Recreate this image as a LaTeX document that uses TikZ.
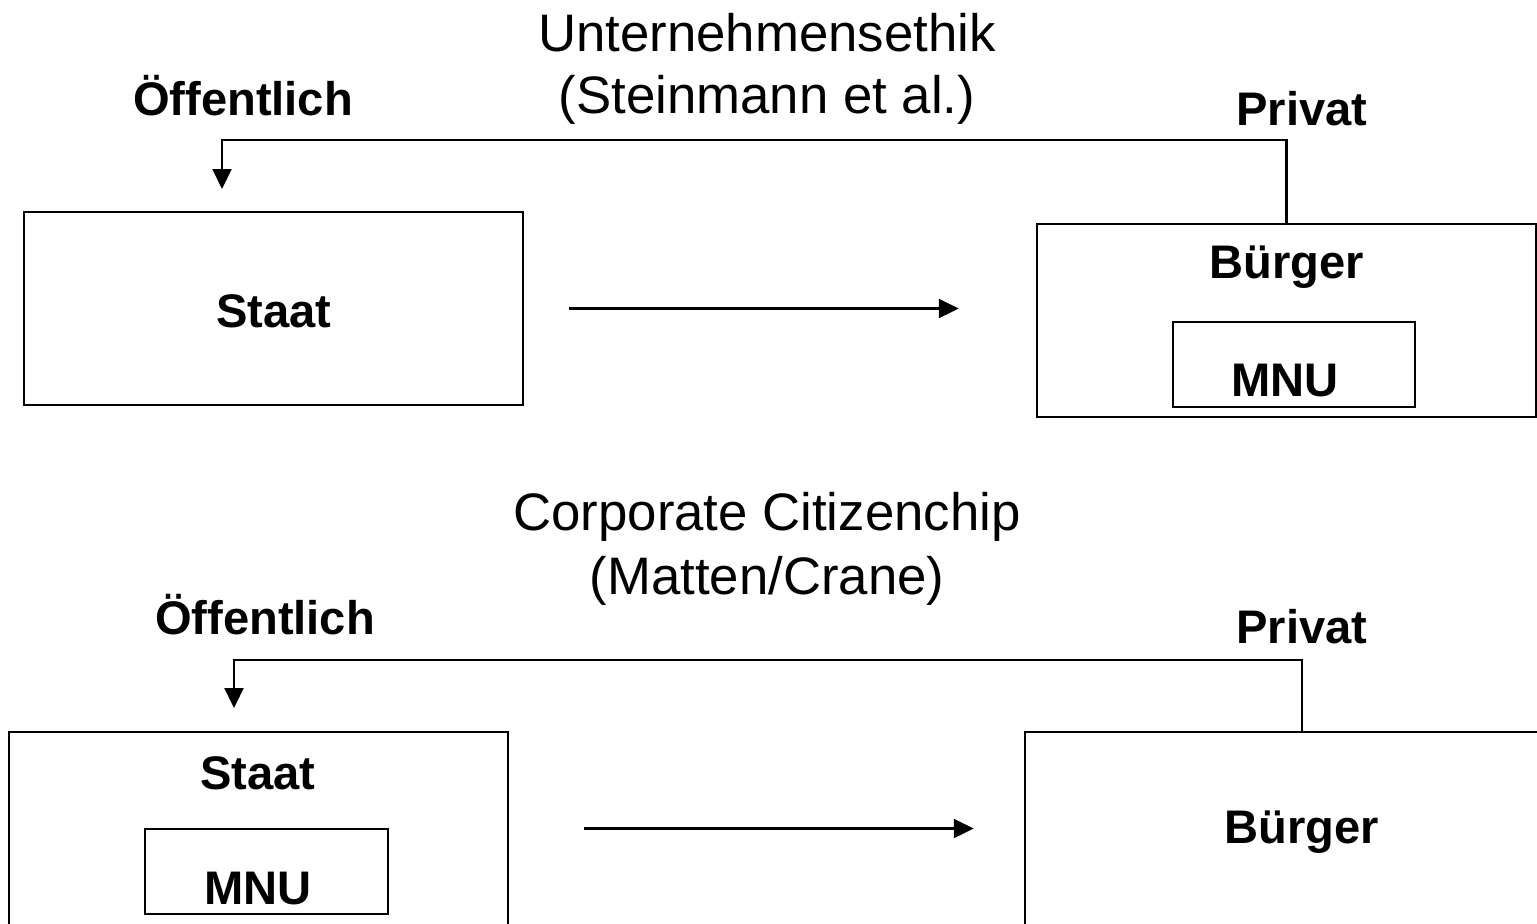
\documentclass[tikz,border=0pt]{standalone}
\usepackage{fontspec}
\setmainfont{Liberation Sans}
\usetikzlibrary{arrows.meta,positioning}

\tikzset{
  kasten/.style={draw, line width=0.6pt, minimum width=4.99cm, minimum height=1.93cm, inner sep=0pt},
  innenkasten/.style={draw, line width=0.6pt, minimum width=2.42cm, minimum height=0.85cm, inner sep=0pt},
  fett/.style={font=\fontsize{13.4}{16}\selectfont\bfseries, inner sep=0pt},
  titel/.style={font=\fontsize{15}{17.6}\selectfont, align=center, inner sep=0pt},
  pfeil/.style={-{Triangle[length=0.2cm,width=0.19cm]}, line width=0.6pt}
}

\begin{document}
\begin{tikzpicture}[x=0.01cm, y=-0.01cm]
		\useasboundingbox (0,0) rectangle (1537,923);
		\clip (0,0) rectangle (1537,923);
		% oben: Unternehmensethik
		\node[titel] (titelOben) at (767,69) {Unternehmensethik\\(Steinmann et al.)};
		\node[fett] (oeffOben) at (243,96) {Öffentlich};
		\node[fett] (privOben) at (1302,109) {Privat};
		\node[kasten] (staatOben) at (273.5,308.5) {};
		\node[fett] at (274,311) {Staat};
		\node[kasten] (buergerOben) at (1286.5,320.5) {};
		\node[fett] at (1287,267) {Bürger};
		\node[innenkasten] (mnuOben) at (1294,364.5) {};
		\node[fett] at (1285,380) {MNU};
		\coordinate (knickOben) at (222,140);
		\coordinate (zielOben) at (222,189);
		\draw[pfeil] (buergerOben.north) |- (knickOben) -- (zielOben);
		\draw[pfeil, shorten <=0.45cm, shorten >=0.77cm] (staatOben.east) -- (staatOben.east -| buergerOben.west);
		% unten: Corporate Citizenchip
		\node[titel, font=\fontsize{15}{18.2}\selectfont] (titelUnten) at (767,549) {Corporate Citizenchip\\(Matten/Crane)};
		\node[fett] (oeffUnten) at (265,615) {Öffentlich};
		\node[fett] (privUnten) at (1302,627) {Privat};
		\node[kasten] (staatUnten) at (258.5,828.5) {};
		\node[fett] at (258,773) {Staat};
		\node[innenkasten] (mnuUnten) at (266.5,871.5) {};
		\node[fett] at (258,888) {MNU};
		\node[kasten, minimum width=5.35cm] (buergerUnten) at (1292.5,828.5) {};
		\node[fett] at (1302,832) {Bürger};
		\coordinate (knickUnten) at (234,660);
		\coordinate (zielUnten) at (234,708);
		\draw[pfeil] (buergerUnten.north -| 1302,0) |- (knickUnten) -- (zielUnten);
		\draw[pfeil, shorten <=0.75cm, shorten >=0.50cm] (staatUnten.east) -- (buergerUnten.west);
	\end{tikzpicture}
\end{document}
